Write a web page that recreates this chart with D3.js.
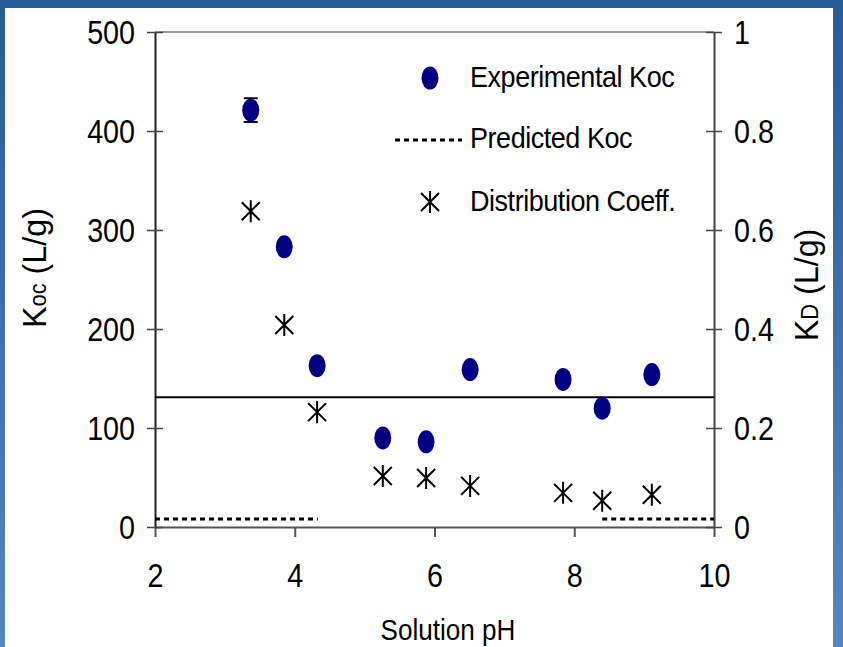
<!DOCTYPE html>
<html>
<head>
<meta charset="utf-8">
<script src="https://cdn.jsdelivr.net/npm/d3@7"></script>
<style>
  html, body { margin: 0; padding: 0; }
  body { width: 843px; height: 647px; overflow: hidden; }
  text { font-family: "Liberation Sans", Arial, sans-serif; fill: #000; }
</style>
</head>
<body>
<svg id="chart" width="843" height="647"></svg>
<script>
// solution pH of each sample
var ph = [3.37, 3.85, 4.32, 5.26, 5.88, 6.51, 7.84, 8.40, 9.11];
// experimental Koc (L/g), left axis
var koc = [421, 283, 163, 90, 86, 159, 149, 120, 154];
var kocErr = [12, 0, 0, 0, 0, 0, 0, 0, 0];
// distribution coefficient KD (L/g), right axis
var kd = [0.638, 0.408, 0.232, 0.103, 0.099, 0.083, 0.069, 0.053, 0.065];
// predicted Koc, drawn as two dotted pieces
var predicted = [
  [[2, 8], [4.33, 8]],
  [[8.4, 8], [10, 8]]
];
var refKoc = 131; // solid horizontal line
var xTicks = [2, 4, 6, 8, 10];
var yLeftTicks = [0, 100, 200, 300, 400, 500];
var yRightTicks = [0, 0.2, 0.4, 0.6, 0.8, 1];
var legendLabels = ["Experimental Koc", "Predicted Koc", "Distribution Coeff."];

var svg = d3.select("#chart");
var W = 843, H = 647;

// blue slide frame
var defs = svg.append("defs");
var grad = defs.append("linearGradient").attr("id", "frame")
  .attr("x1", 0).attr("y1", 0).attr("x2", 0).attr("y2", 1);
grad.append("stop").attr("offset", "0%").attr("stop-color", "#265d95");
grad.append("stop").attr("offset", "100%").attr("stop-color", "#5686bc");
svg.append("rect").attr("width", W).attr("height", H).attr("fill", "url(#frame)");
svg.append("rect").attr("x", 5).attr("y", 8).attr("width", 828).attr("height", H - 8).attr("fill", "#fff");

var x = d3.scaleLinear().domain([2, 10]).range([155, 714]);
var yL = d3.scaleLinear().domain([0, 500]).range([527, 32]);
var yR = d3.scaleLinear().domain([0, 1]).range([527, 32]);

var SX = 0.87;   // tick labels are squeezed horizontally
var TICKFONT = "33px";

// top border of the plot area
svg.append("line")
  .attr("x1", x(2)).attr("x2", x(10)).attr("y1", yL(500)).attr("y2", yL(500))
  .attr("stroke", "#999").attr("stroke-width", 2);

// x axis
var gx = svg.append("g").attr("transform", "translate(0," + yL(0) + ")")
  .call(d3.axisBottom(x).tickValues(xTicks).tickSize(10).tickSizeOuter(0));
gx.select(".domain").attr("stroke", "#555").attr("stroke-width", 2);
gx.selectAll(".tick line").attr("stroke", "#555").attr("stroke-width", 2);
gx.selectAll(".tick text")
  .attr("y", 0).attr("dy", null)
  .attr("transform", "translate(0,60) scale(" + SX + ",1)")
  .style("font-size", TICKFONT).style("font-family", "Liberation Sans, Arial, sans-serif");

// left axis
var gl = svg.append("g").attr("transform", "translate(" + x(2) + ",0)")
  .call(d3.axisLeft(yL).tickValues(yLeftTicks).tickSize(8).tickSizeOuter(0));
gl.select(".domain").attr("stroke", "#222").attr("stroke-width", 2);
gl.selectAll(".tick line").attr("x1", -8).attr("x2", 8).attr("stroke", "#444").attr("stroke-width", 1.5);
gl.selectAll(".tick text")
  .attr("x", -20 / SX).attr("dy", "0.36em")
  .attr("transform", "scale(" + SX + ",1)")
  .style("font-size", TICKFONT).style("font-family", "Liberation Sans, Arial, sans-serif");

// right axis
var gr = svg.append("g").attr("transform", "translate(" + x(10) + ",0)")
  .call(d3.axisRight(yR).tickValues(yRightTicks).tickSize(8).tickSizeOuter(0)
    .tickFormat(function(d) { return d3.format("")(+d.toFixed(1)); }));
gr.select(".domain").attr("stroke", "#444").attr("stroke-width", 2);
gr.selectAll(".tick line").attr("x1", -8).attr("x2", 8).attr("stroke", "#444").attr("stroke-width", 1.5);
gr.selectAll(".tick text")
  .attr("x", 20 / SX).attr("dy", "0.36em")
  .attr("transform", "scale(" + SX + ",1)")
  .style("font-size", TICKFONT).style("font-family", "Liberation Sans, Arial, sans-serif");

// axis titles
function sqText(px, py, rot, size, sx) {
  return svg.append("text")
    .attr("transform", "translate(" + px + "," + py + ") rotate(" + rot + ") scale(" + sx + ",1)")
    .attr("text-anchor", "middle")
    .style("font-size", size + "px");
}
sqText(448, 640, 0, 29, 0.9).text("Solution pH");

// K with small letters on the baseline, then the unit
function kLabel(t, sub) {
  t.append("tspan").text("K");
  t.append("tspan").style("font-size", "23px").text(sub);
  t.append("tspan").text(" (L/g)");
}
kLabel(sqText(46, 268, -90, 34, 0.95), "oc");
kLabel(sqText(818, 285, -90, 34, 0.95), "D");

// reference line
svg.append("line")
  .attr("x1", x(2)).attr("x2", x(10)).attr("y1", yL(refKoc)).attr("y2", yL(refKoc))
  .attr("stroke", "#000").attr("stroke-width", 2);

// predicted Koc
var line = d3.line().x(function(d) { return x(d[0]); }).y(function(d) { return yL(d[1]); });
svg.selectAll(".pred").data(predicted).enter().append("path")
  .attr("class", "pred")
  .attr("d", line)
  .attr("fill", "none").attr("stroke", "#000").attr("stroke-width", 3)
  .attr("stroke-dasharray", "5,4");

// asterisk marker
var star = "M0,-11V11M-9,-9L9,9M-9,9L9,-9";

// distribution coefficient
svg.selectAll(".kd").data(kd).enter().append("path")
  .attr("class", "kd")
  .attr("transform", function(d, i) { return "translate(" + x(ph[i]) + "," + yR(d) + ")"; })
  .attr("d", star).attr("fill", "none").attr("stroke", "#000").attr("stroke-width", 2);

// error bars for experimental Koc
var eb = svg.selectAll(".err").data(koc).enter().append("g").attr("class", "err")
  .filter(function(d, i) { return kocErr[i] > 0; });
eb.append("path")
  .attr("d", function(d, i) {
    var cx = x(ph[i]), t = yL(d + kocErr[i]), b = yL(d - kocErr[i]);
    return "M" + (cx - 7) + "," + t + "H" + (cx + 7) + "M" + cx + "," + t + "V" + b +
      "M" + (cx - 7) + "," + b + "H" + (cx + 7);
  })
  .attr("stroke", "#000").attr("stroke-width", 2).attr("fill", "none");

// experimental Koc
svg.selectAll(".koc").data(koc).enter().append("ellipse")
  .attr("class", "koc")
  .attr("cx", function(d, i) { return x(ph[i]); })
  .attr("cy", function(d) { return yL(d); })
  .attr("rx", 8.5).attr("ry", 11.5)
  .attr("fill", "#000080");

// legend
var lg = svg.append("g");
lg.append("ellipse").attr("cx", 430).attr("cy", 78).attr("rx", 8.5).attr("ry", 11.5).attr("fill", "#000080");
lg.append("line").attr("x1", 395).attr("x2", 462).attr("y1", 140).attr("y2", 140)
  .attr("stroke", "#000").attr("stroke-width", 3).attr("stroke-dasharray", "5,4");
lg.append("path").attr("transform", "translate(430,202)").attr("d", star)
  .attr("fill", "none").attr("stroke", "#000").attr("stroke-width", 2);
var ly = [87, 148, 211];
legendLabels.forEach(function(t, i) {
  lg.append("text")
    .attr("transform", "translate(470," + ly[i] + ") scale(0.9,1)")
    .style("font-size", "30px")
    .style("letter-spacing", "-0.5px")
    .text(t);
});
</script>
</body>
</html>
